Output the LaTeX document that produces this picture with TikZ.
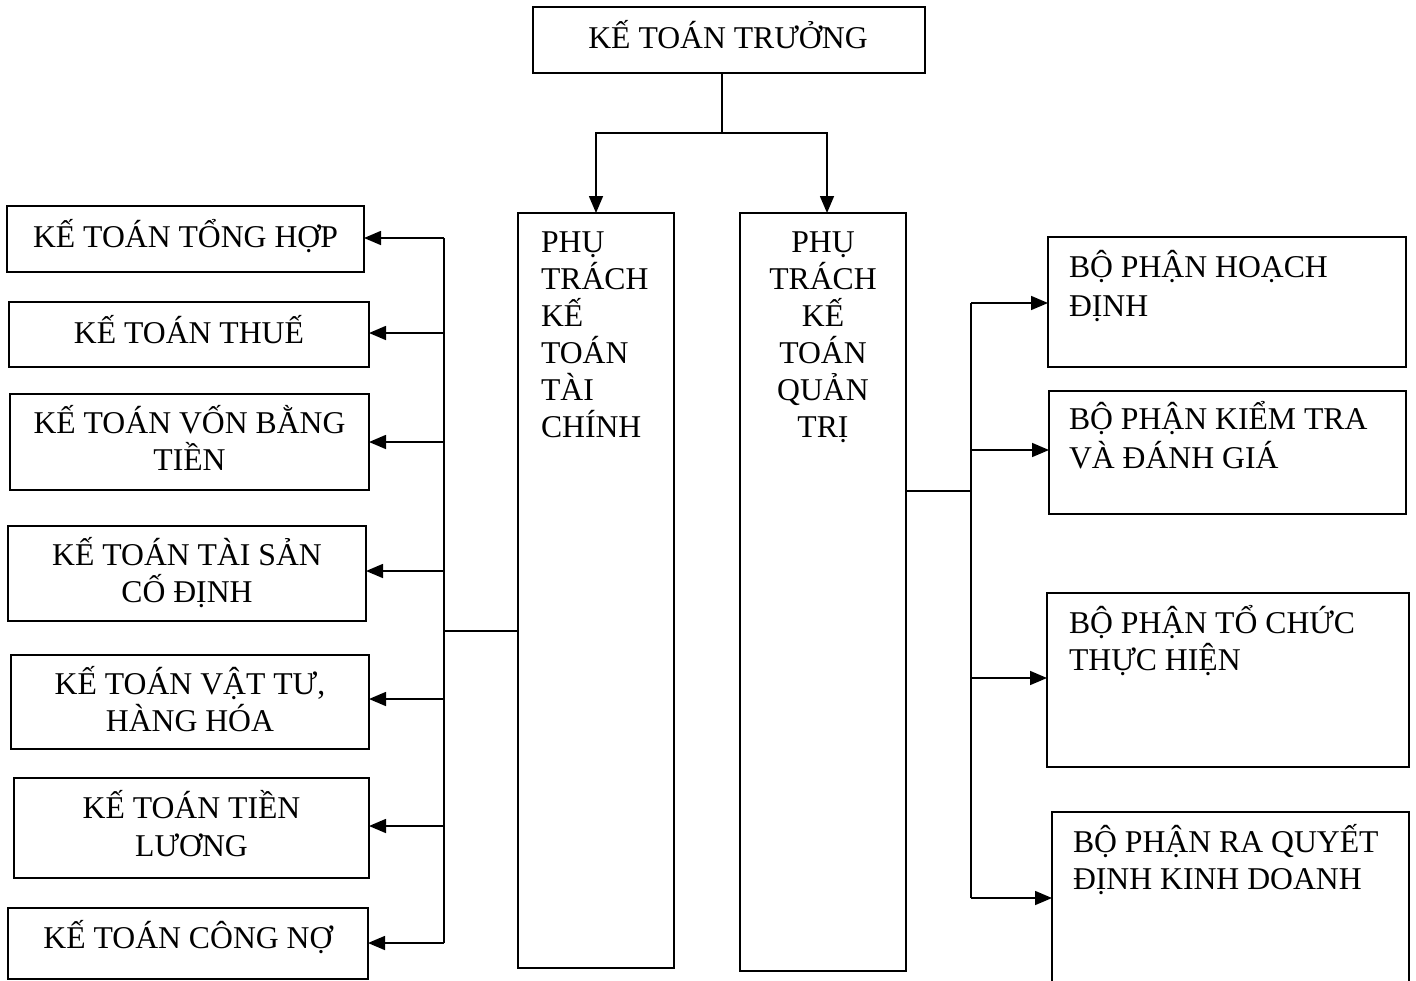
\documentclass[tikz,border=0pt]{standalone}
\usepackage{fontspec}
\setmainfont{Liberation Serif}
\usetikzlibrary{arrows.meta,fit}

% stacked lines with a fixed baseline distance; the baseline of the
% whole block is the baseline of its first line
\newcommand\linescentre[2]{\vtop{\baselineskip=#1\lineskiplimit=-\maxdimen
  \halign{\hfil##\hfil\cr#2\crcr}}}
\newcommand\linesleft[2]{\vtop{\baselineskip=#1\lineskiplimit=-\maxdimen
  \halign{##\hfil\cr#2\crcr}}}

\begin{document}
\begin{tikzpicture}[x=1pt,y=-1pt,
  box/.style={draw, line width=1.8pt, inner sep=0pt, outer sep=0pt},
  wire/.style={line width=1.6pt},
  arr/.style={wire, -{Triangle[length=17pt,width=14pt]}},
  lbl/.style={inner sep=0pt, outer sep=0pt, anchor=base,
    font=\fontsize{31.7}{37}\selectfont},
  lbll/.style={lbl, anchor=base west},
]
\useasboundingbox (0,0) rectangle (1416,980);
\clip (0,0) rectangle (1416,980);

% ---- boxes ----
\node[box, fit={(533,7) (925,73)}]     (top) {};
\node[box, fit={(518,213) (674,968)}]  (fin) {};
\node[box, fit={(740,213) (906,971)}]  (ql)  {};

\node[box, fit={(7,206) (364,272)}]    (l1) {};
\node[box, fit={(9,302) (369,367)}]    (l2) {};
\node[box, fit={(10,394) (369,490)}]   (l3) {};
\node[box, fit={(8,526) (366,621)}]    (l4) {};
\node[box, fit={(11,655) (369,749)}]   (l5) {};
\node[box, fit={(14,778) (369,878)}]   (l6) {};
\node[box, fit={(8,908) (368,979)}]    (l7) {};

\node[box, fit={(1048,237) (1406,367)}] (r1) {};
\node[box, fit={(1049,391) (1406,514)}] (r2) {};
\node[box, fit={(1047,593) (1409,767)}] (r3) {};
\node[box, fit={(1052,812) (1409,995)}] (r4) {};

% ---- texts ----
\node[lbl] (ttop) at (728,48) {KẾ TOÁN TRƯỞNG};
\node[lbll] (tfin) at (541,252)
  {\linesleft{37pt}{PHỤ\cr TRÁCH\cr KẾ\cr TOÁN\cr TÀI\cr CHÍNH}};
\node[lbl] (tql) at (823,252)
  {\linescentre{37pt}{PHỤ\cr TRÁCH\cr KẾ\cr TOÁN\cr QUẢN\cr TRỊ}};

\node[lbl] (t1) at (185.5,247) {KẾ TOÁN TỔNG HỢP};
\node[lbl] (t2) at (189,343) {KẾ TOÁN THUẾ};
\node[lbl] (t3) at (189.5,433) {\linescentre{37pt}{KẾ TOÁN VỐN BẰNG\cr TIỀN}};
\node[lbl] (t4) at (187,565) {\linescentre{37pt}{KẾ TOÁN TÀI SẢN\cr CỐ ĐỊNH}};
\node[lbl] (t5) at (190,694) {\linescentre{37pt}{KẾ TOÁN VẬT TƯ,\cr HÀNG HÓA}};
\node[lbl] (t6) at (191.5,818) {\linescentre{38pt}{KẾ TOÁN TIỀN\cr LƯƠNG}};
\node[lbl] (t7) at (188,948) {KẾ TOÁN CÔNG NỢ};

\node[lbll] (u1) at (1069,277) {\linesleft{39pt}{BỘ PHẬN HOẠCH\cr ĐỊNH}};
\node[lbll] (u2) at (1069,429) {\linesleft{39pt}{BỘ PHẬN KIỂM TRA\cr VÀ ĐÁNH GIÁ}};
\node[lbll] (u3) at (1069,633) {\linesleft{37pt}{BỘ PHẬN TỔ CHỨC\cr THỰC HIỆN}};
\node[lbll] (u4) at (1073,852) {\linesleft{37pt}{BỘ PHẬN RA QUYẾT\cr ĐỊNH KINH DOANH}};

% ---- junction points ----
\coordinate (jt) at (722,133);

\coordinate (lbm) at (444,631);
\coordinate (b1) at (444,238);
\coordinate (b2) at (444,333);
\coordinate (b3) at (444,442);
\coordinate (b4) at (444,571);
\coordinate (b5) at (444,699);
\coordinate (b6) at (444,826);
\coordinate (b7) at (444,943);

\coordinate (rbm) at (971,491);
\coordinate (c1) at (971,303);
\coordinate (c2) at (971,450);
\coordinate (c3) at (971,678);
\coordinate (c4) at (971,898);

% ---- connectors ----
\draw[wire] (top.south -| jt) -- (jt);
\draw[arr] (jt) -| (fin.north);
\draw[arr] (jt) -| ([xshift=4pt]ql.north);

\draw[wire] (b1) -- (b7);
\draw[wire] (fin.west |- lbm) -- (lbm);
\foreach \i in {1,...,7}{
  \draw[arr] (b\i) -- (l\i.east |- b\i);
}

\draw[wire] (c1) -- (c4);
\draw[wire] (ql.east |- rbm) -- (rbm);
\foreach \i in {1,...,4}{
  \draw[arr] (c\i) -- (r\i.west |- c\i);
}
\end{tikzpicture}
\end{document}
